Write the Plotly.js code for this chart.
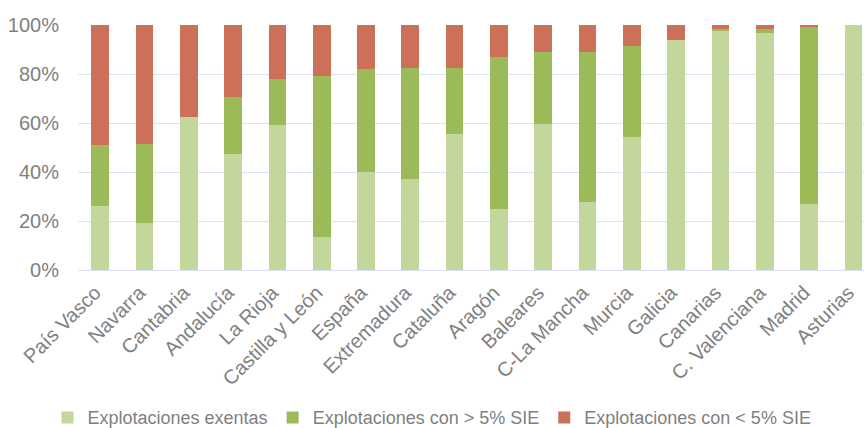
<!DOCTYPE html>
<html>
<head>
<meta charset="utf-8">
<script src="https://cdn.plot.ly/plotly-3.0.1.min.js"></script>
<style>html,body{margin:0;padding:0;background:#fff;}#chart{width:864px;height:428px;}</style>
</head>
<body>
<div id="chart"></div>
<script>
const categories = ["País Vasco","Navarra","Cantabria","Andalucía","La Rioja","Castilla y León","España","Extremadura","Cataluña","Aragón","Baleares","C-La Mancha","Murcia","Galicia","Canarias","C. Valenciana","Madrid","Asturias"];
const exentas = [26.1, 19.3, 62.3, 47.3, 59.2, 13.5, 40.0, 37.1, 55.5, 24.9, 59.6, 27.6, 54.1, 93.9, 97.6, 96.6, 27.1, 100.0];
const mayor5 = [24.8, 32.1, 0.0, 23.3, 18.8, 65.7, 42.0, 45.3, 26.9, 62.0, 29.4, 61.2, 37.5, 0.0, 0.9, 1.8, 72.2, 0.0];
const menor5 = [49.1, 48.6, 37.7, 29.4, 22.0, 20.8, 18.0, 17.6, 17.6, 13.1, 11.0, 11.2, 8.4, 6.1, 1.5, 1.6, 0.7, 0.0];
const seriesNames = ["Explotaciones exentas", "Explotaciones con > 5% SIE", "Explotaciones con < 5% SIE"];
const seriesColors = ["#C3D69B", "#9BBB59", "#CD705A"];
const yTicks = [0, 20, 40, 60, 80, 100];
const yTickText = ["0%", "20%", "40%", "60%", "80%", "100%"];

const dataSets = [exentas, mayor5, menor5];
const traces = dataSets.map((vals, i) => ({
  type: "bar",
  name: seriesNames[i],
  x: categories,
  y: vals,
  marker: {color: seriesColors[i], line: {width: 0}},
  hoverinfo: "x+y+name"
}));

const layout = {
  width: 864, height: 428,
  margin: {l: 78, r: 0, t: 25, b: 158, autoexpand: false},
  barmode: "stack",
  bargap: 0.6,
  paper_bgcolor: "#ffffff",
  plot_bgcolor: "#ffffff",
  font: {family: "Liberation Sans, Arial, sans-serif", color: "#808080", size: 20},
  showlegend: true,
  legend: {
    orientation: "h",
    xref: "container", yref: "container",
    x: 0.5, xanchor: "center",
    y: 0.024, yanchor: "middle",
    font: {size: 18, color: "#7F7F7F"},
    itemwidth: 30,
    borderwidth: 0,
    tracegroupgap: 0,
    traceorder: "normal"
  },
  xaxis: {
    type: "category",
    range: [-0.5, 17.24],
    tickangle: -45,
    automargin: false,
    showgrid: false,
    zeroline: false,
    showline: false,
    ticks: "",
    ticklabelstandoff: 6,
    ticklabelshift: -5,
    tickfont: {size: 20, color: "#808080"},
    fixedrange: true
  },
  yaxis: {
    range: [0, 100],
    automargin: false,
    tickvals: yTicks,
    ticktext: yTickText,
    showgrid: true,
    gridcolor: "#D9E2F1",
    gridwidth: 1,
    zeroline: true,
    zerolinecolor: "#D9E2F1",
    zerolinewidth: 1,
    showline: false,
    ticks: "",
    ticklabelstandoff: 18,
    tickfont: {size: 20, color: "#808080"},
    fixedrange: true
  }
};

Plotly.newPlot("chart", traces, layout, {displayModeBar: false, staticPlot: true});
</script>
</body>
</html>
